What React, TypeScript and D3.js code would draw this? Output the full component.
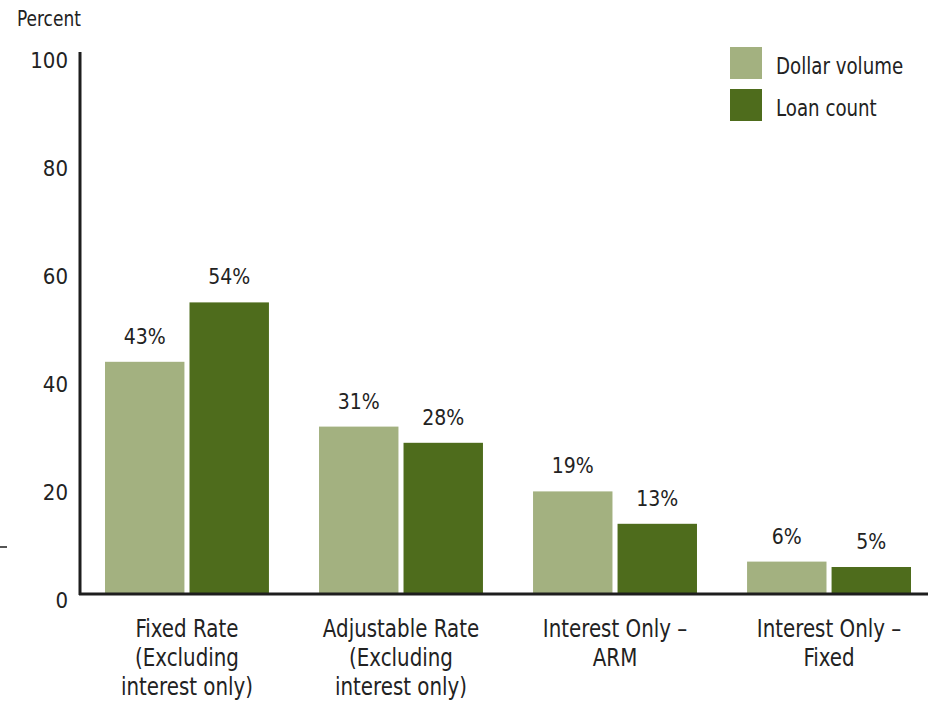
import React, { useRef, useEffect } from 'react';
import * as d3 from 'd3';

const categories = [
  ['Fixed Rate', '(Excluding', 'interest only)'],
  ['Adjustable Rate', '(Excluding', 'interest only)'],
  ['Interest Only \u2013', 'ARM'],
  ['Interest Only \u2013', 'Fixed'],
];
const seriesNames = ['Dollar volume', 'Loan count'];
const dollarVolume = [43, 31, 19, 6];
const loanCount = [54, 28, 13, 5];
const yTicks = [0, 20, 40, 60, 80, 100];

const colors = ['#a3b180', '#4e6c1c'];
const FONT = '"Liberation Sans Narrow", "DejaVu Sans Condensed", "Roboto", sans-serif';

function App() {
  const ref = useRef<SVGSVGElement | null>(null);

  useEffect(() => {
    const svg = d3.select(ref.current);
    svg.selectAll('*').remove();

    const keys = categories.map((c) => c.join(' '));
    const values = [dollarVolume, loanCount];

    const y = d3.scaleLinear().domain([0, 100]).range([594, 54]);
    const x0 = d3.scaleBand().domain(keys).range([105, 911]).paddingInner(0.234).paddingOuter(0);
    const x1 = d3.scaleBand().domain(seriesNames).range([0, x0.bandwidth()]).paddingInner(0.06);

    // bars
    const groups = svg.append('g')
      .selectAll('g')
      .data(keys)
      .join('g')
      .attr('transform', (d) => `translate(${x0(d)},0)`);

    groups.selectAll('rect')
      .data((_, i) => seriesNames.map((s, si) => ({ s, v: values[si][i], si })))
      .join('rect')
      .attr('x', (d) => x1(d.s)!)
      .attr('y', (d) => y(d.v))
      .attr('width', x1.bandwidth())
      .attr('height', (d) => y(0) - y(d.v))
      .attr('fill', (d) => colors[d.si]);

    groups.selectAll('text.val')
      .data((_, i) => seriesNames.map((s, si) => ({ s, v: values[si][i] })))
      .join('text')
      .attr('class', 'val')
      .attr('x', (d) => x1(d.s)! + x1.bandwidth() / 2)
      .attr('y', (d) => y(d.v) - 18)
      .attr('text-anchor', 'middle')
      .attr('font-family', FONT)
      .attr('font-size', 21)
      .attr('fill', '#222')
      .text((d) => `${d.v}%`);

    // axes
    svg.append('line')
      .attr('x1', 80).attr('x2', 80)
      .attr('y1', 52).attr('y2', y(0) + 1)
      .attr('stroke', '#1e1e1e').attr('stroke-width', 3);
    svg.append('line')
      .attr('x1', 79).attr('x2', 928)
      .attr('y1', y(0)).attr('y2', y(0))
      .attr('stroke', '#1e1e1e').attr('stroke-width', 3);

    svg.append('g')
      .selectAll('text')
      .data(yTicks)
      .join('text')
      .attr('x', 68)
      .attr('y', (d) => y(d) + 14)
      .attr('text-anchor', 'end')
      .attr('font-family', FONT)
      .attr('font-size', 22)
      .attr('fill', '#222')
      .text((d) => d);

    svg.append('text')
      .attr('transform', 'translate(17,26) scale(0.9,1)')
      .attr('font-family', FONT)
      .attr('font-size', 21)
      .attr('fill', '#222')
      .text('Percent');

    // category labels
    const cat = svg.append('g')
      .selectAll('text')
      .data(categories)
      .join('text')
      .attr('transform', (_, i) => `translate(${x0(keys[i])! + x0.bandwidth() / 2},637) scale(0.92,1)`)
      .attr('text-anchor', 'middle')
      .attr('font-family', FONT)
      .attr('font-size', 24)
      .attr('fill', '#222');
    cat.selectAll('tspan')
      .data((d) => d)
      .join('tspan')
      .attr('x', 0)
      .attr('dy', (_, i) => (i === 0 ? 0 : 29))
      .text((d) => d);

    // legend
    const leg = svg.append('g')
      .selectAll('g')
      .data(seriesNames)
      .join('g')
      .attr('transform', (_, i) => `translate(730,${47 + i * 42})`);
    leg.append('rect')
      .attr('width', 32).attr('height', 32)
      .attr('fill', (_, i) => colors[i]);
    leg.append('text')
      .attr('transform', 'translate(46,27) scale(0.88,1)')
      .attr('font-family', FONT)
      .attr('font-size', 23)
      .attr('fill', '#222')
      .text((d) => d);

    // stray mark at left edge
    svg.append('line')
      .attr('x1', 0).attr('x2', 7)
      .attr('y1', 547).attr('y2', 547)
      .attr('stroke', '#555').attr('stroke-width', 2);
  }, []);

  return (
    <svg
      ref={ref}
      width={928}
      height={702}
      style={{ position: 'absolute', left: 0, top: 0, background: '#fff' }}
    />
  );
}

export default App;
